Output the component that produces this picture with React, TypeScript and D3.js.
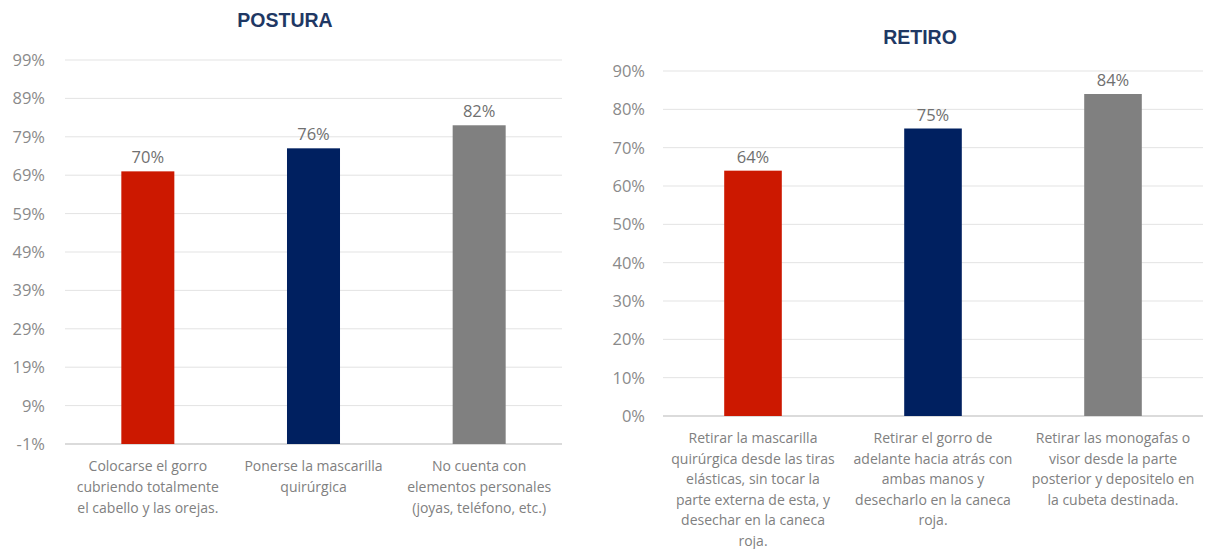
import React from "react";
import * as d3 from "d3";

const posturaCategories: string[][] = [
  ["Colocarse el gorro", "cubriendo totalmente", "el cabello y las orejas."],
  ["Ponerse la mascarilla", "quirúrgica"],
  ["No cuenta con", "elementos personales", "(joyas, teléfono, etc.)"],
];
const posturaValues = [0.7, 0.76, 0.82];
const posturaTicks = [-0.01, 0.09, 0.19, 0.29, 0.39, 0.49, 0.59, 0.69, 0.79, 0.89, 0.99];

const retiroCategories: string[][] = [
  ["Retirar la mascarilla", "quirúrgica desde las tiras", "elásticas, sin tocar la", "parte externa de esta, y", "desechar en la caneca", "roja."],
  ["Retirar el gorro de", "adelante hacia atrás con", "ambas manos y", "desecharlo en la caneca", "roja."],
  ["Retirar las monogafas o", "visor desde la parte", "posterior y depositelo en", "la cubeta destinada."],
];
const retiroValues = [0.64, 0.75, 0.84];
const retiroTicks = [0, 0.1, 0.2, 0.3, 0.4, 0.5, 0.6, 0.7, 0.8, 0.9];

const barColors = ["#CC1800", "#002060", "#808080"];

const FONT = "'Open Sans', Lato, sans-serif";

type PanelProps = {
  title: string;
  titleX: number;
  titleY: number;
  cats: string[][];
  values: number[];
  ticks: number[];
  x0: number;
  x1: number;
  yTop: number;
  yBottom: number;
  domain: [number, number];
  tickLabelX: number;
  catY: number;
  lineH: number;
};

function Panel(p: PanelProps) {
  const x = d3
    .scaleBand<number>()
    .domain(p.values.map((_, i) => i))
    .range([p.x0, p.x1])
    .paddingInner(0.68)
    .paddingOuter(0.34);
  const y = d3.scaleLinear().domain(p.domain).range([p.yBottom, p.yTop]);
  const fmt = (v: number) => `${Math.round(v * 100)}%`;
  return (
    <g>
      <text x={p.titleX} y={p.titleY} textAnchor="middle" fontFamily="Arial, 'Liberation Sans', sans-serif" fontWeight="bold" fontSize={19.5} fill="#1F3864">
        {p.title}
      </text>
      {p.ticks.map((t, i) => (
        <g key={i}>
          <line x1={p.x0} x2={p.x1} y1={y(t)} y2={y(t)} stroke={i === 0 ? "#cfcfcf" : "#e3e3e3"} strokeWidth={i === 0 ? 1.5 : 1} />
          <text x={p.tickLabelX} y={y(t)} dy="0.36em" textAnchor="end" fontFamily={FONT} fontSize={16.5} fill="#8a8a8a">
            {fmt(t)}
          </text>
        </g>
      ))}
      {p.values.map((v, i) => (
        <g key={i}>
          <rect x={x(i)} width={x.bandwidth()} y={y(v)} height={y(p.domain[0]) - y(v)} fill={barColors[i]} />
          <text x={(x(i) as number) + x.bandwidth() / 2} y={y(v) - 8} textAnchor="middle" fontFamily={FONT} fontSize={16.5} fill="#707070">
            {fmt(v)}
          </text>
          <text textAnchor="middle" fontFamily={FONT} fontSize={14} fill="#808080">
            {p.cats[i].map((line, j) => (
              <tspan key={j} x={(x(i) as number) + x.bandwidth() / 2} y={p.catY + j * p.lineH}>
                {line}
              </tspan>
            ))}
          </text>
        </g>
      ))}
    </g>
  );
}

export default function App() {
  return (
    <svg width={1208} height={549} style={{ position: "absolute", left: 0, top: 0, background: "#fff" }}>
      <rect width={1208} height={549} fill="#fff" />
      <Panel
        title="POSTURA"
        titleX={285}
        titleY={27}
        cats={posturaCategories}
        values={posturaValues}
        ticks={posturaTicks}
        x0={65}
        x1={562}
        yTop={60}
        yBottom={444}
        domain={[-0.01, 0.99]}
        tickLabelX={45}
        catY={471}
        lineH={21}
      />
      <Panel
        title="RETIRO"
        titleX={920}
        titleY={44}
        cats={retiroCategories}
        values={retiroValues}
        ticks={retiroTicks}
        x0={663}
        x1={1203}
        yTop={71}
        yBottom={416}
        domain={[0, 0.9]}
        tickLabelX={645}
        catY={443}
        lineH={20.6}
      />
    </svg>
  );
}
